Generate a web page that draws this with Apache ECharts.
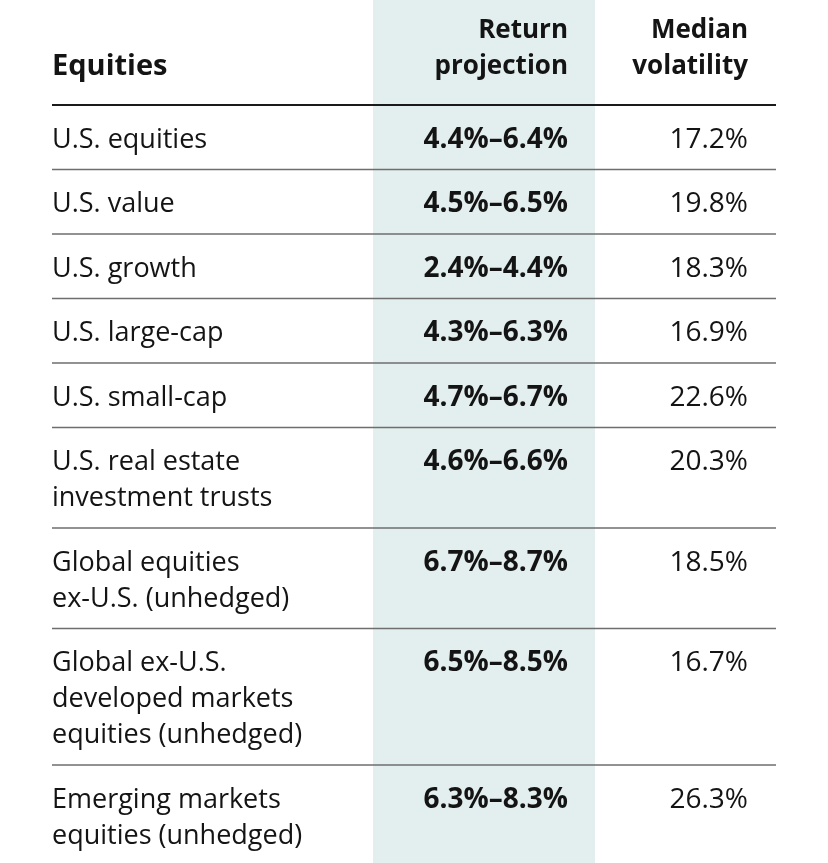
<!DOCTYPE html>
<html>
<head>
<meta charset="utf-8">
<script src="https://cdn.jsdelivr.net/npm/echarts@6/dist/echarts.min.js"></script>
<style>
  html, body { margin: 0; padding: 0; background: #fff; }
  #chart { width: 828px; height: 863px; }
</style>
</head>
<body>
<div id="chart"></div>
<script>
// table content
const headerLabels = ["Equities", "Return\nprojection", "Median\nvolatility"];
const assetClasses = [
  "U.S. equities",
  "U.S. value",
  "U.S. growth",
  "U.S. large-cap",
  "U.S. small-cap",
  "U.S. real estate\ninvestment trusts",
  "Global equities\nex-U.S. (unhedged)",
  "Global ex-U.S.\ndeveloped markets\nequities (unhedged)",
  "Emerging markets\nequities (unhedged)"
];
const returnLow = [4.4, 4.5, 2.4, 4.3, 4.7, 4.6, 6.7, 6.5, 6.3];
const returnHigh = [6.4, 6.5, 4.4, 6.3, 6.7, 6.6, 8.7, 8.5, 8.3];
const medianVolatility = [17.2, 19.8, 18.3, 16.9, 22.6, 20.3, 18.5, 16.7, 26.3];

// layout (page units = px on a 828 x 863 plane)
const W = 828, H = 863;
const colLeft = 52, colReturnRight = 568, colVolRight = 748, ruleRight = 776;
const shadeLeft = 373, shadeRight = 595;
const headerBottom = 105, rowBase = 64.5, lineStep = 36, firstLineOffset = 35;
const fontFamily = "'Open Sans', sans-serif";

const lineCounts = assetClasses.map(s => s.split("\n").length);
const rowTops = [];
let acc = headerBottom;
lineCounts.forEach(n => {
  rowTops.push(acc);
  acc += rowBase + lineStep * (n - 1);
});

function textEl(api, str, x, y, align, bold, size) {
  const p = api.coord([x, y]);
  return {
    type: "text",
    x: p[0],
    y: p[1],
    style: {
      text: str,
      fill: "#141414",
      font: (bold ? "bold " : "") + size + "px " + fontFamily,
      align: align,
      textAlign: align,
      verticalAlign: "middle",
      textVerticalAlign: "middle"
    }
  };
}

function multiLine(api, str, x, y, align, bold, size) {
  return str.split("\n").map((s, k) => textEl(api, s, x, y + k * lineStep, align, bold, size));
}

function ruleEl(api, y, width, color) {
  const a = api.coord([colLeft, y]);
  const b = api.coord([ruleRight, y]);
  return {
    type: "line",
    shape: { x1: a[0], y1: a[1], x2: b[0], y2: b[1] },
    style: { stroke: color, lineWidth: width }
  };
}

const chart = echarts.init(document.getElementById("chart"));
chart.setOption({
  animation: false,
  backgroundColor: "#fff",
  grid: { left: 0, right: 0, top: 0, bottom: 0 },
  xAxis: { type: "value", min: 0, max: W, show: false },
  yAxis: { type: "value", min: 0, max: H, inverse: true, show: false },
  series: [
    {
      // shaded return column
      type: "custom",
      silent: true,
      data: [[shadeLeft, shadeRight]],
      renderItem: (params, api) => {
        const a = api.coord([api.value(0), 0]);
        const b = api.coord([api.value(1), H]);
        return {
          type: "rect",
          shape: { x: a[0], y: a[1], width: b[0] - a[0], height: b[1] - a[1] },
          style: { fill: "#e3eeee" }
        };
      }
    },
    {
      // header
      type: "custom",
      silent: true,
      data: [[0]],
      renderItem: (params, api) => {
        const line2 = headerBottom - 38;
        return {
          type: "group",
          children: [
            textEl(api, headerLabels[0], colLeft, line2, "left", true, 29),
            ...multiLine(api, headerLabels[1], colReturnRight, line2 - lineStep, "right", true, 26),
            ...multiLine(api, headerLabels[2], colVolRight, line2 - lineStep, "right", true, 26),
            ruleEl(api, headerBottom, 2, "#1a1a1a")
          ]
        };
      }
    },
    {
      // body rows
      type: "custom",
      silent: true,
      data: assetClasses.map((name, i) => [i]),
      renderItem: (params, api) => {
        const i = params.dataIndex;
        const top = rowTops[i];
        const y = top + firstLineOffset;
        const range = returnLow[i].toFixed(1) + "%\u2013" + returnHigh[i].toFixed(1) + "%";
        const children = [
          ...multiLine(api, assetClasses[i], colLeft, y, "left", false, 27),
          textEl(api, range, colReturnRight, y, "right", true, 28),
          textEl(api, medianVolatility[i].toFixed(1) + "%", colVolRight, y, "right", false, 28)
        ];
        if (i < assetClasses.length - 1) {
          const bottom = top + rowBase + lineStep * (lineCounts[i] - 1);
          children.push(ruleEl(api, bottom, 1.5, "#6e6e6e"));
        }
        return { type: "group", children: children };
      }
    }
  ]
});
</script>
</body>
</html>
